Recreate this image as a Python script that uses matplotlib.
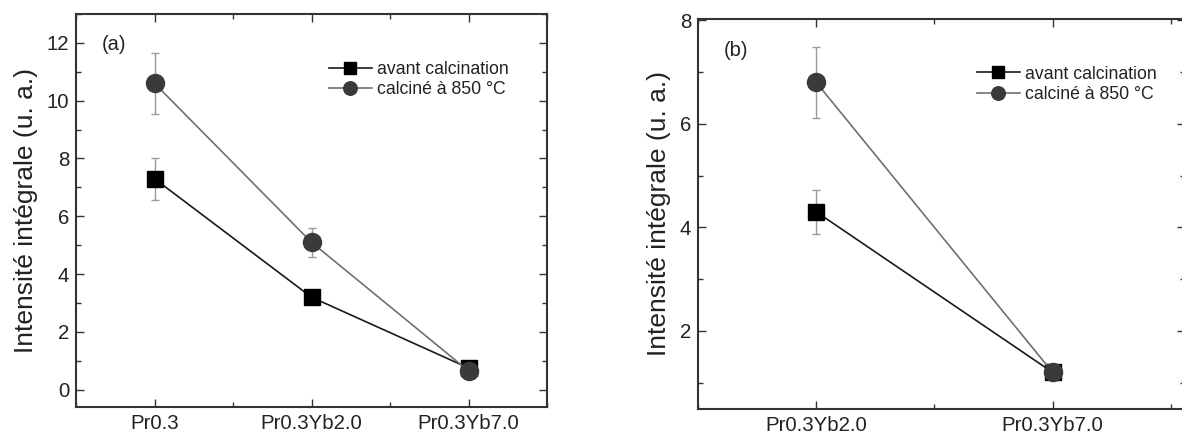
import matplotlib
matplotlib.use("Agg")
import matplotlib.pyplot as plt
from matplotlib.ticker import MultipleLocator

plt.rcParams['font.family'] = ['Liberation Sans', 'DejaVu Sans']

# Panel (a)
cats_a = ["Pr0.3", "Pr0.3Yb2.0", "Pr0.3Yb7.0"]
avant_a = [7.3, 3.2, 0.75]
avant_a_err = [0.73, 0.2, 0.08]
calc_a = [10.6, 5.1, 0.65]
calc_a_err = [1.05, 0.5, 0.07]

# Panel (b)
cats_b = ["Pr0.3Yb2.0", "Pr0.3Yb7.0"]
avant_b = [4.3, 1.2]
avant_b_err = [0.43, 0.1]
calc_b = [6.8, 1.2]
calc_b_err = [0.68, 0.1]

lab_avant = "avant calcination"
lab_calc = "calciné à 850 °C"
ylabel = "Intensité intégrale (u. a.)"

W, H = 1182, 444
fig = plt.figure(figsize=(W / 100, H / 100), dpi=100)

def px_axes(l, t, r, b):
    return fig.add_axes([l / W, (H - b) / H, (r - l) / W, (b - t) / H])

ax1 = px_axes(76, 14, 547, 407)
ax2 = px_axes(698, 19.2, 1185, 408.6)

spine_col = "#333333"
text_col = "#222222"

def draw(ax, cats, av, ave, ca, cae):
    x = list(range(len(cats)))
    ax.errorbar(x, av, yerr=ave, fmt='none', ecolor='#9a9a9a', elinewidth=1.0,
                capsize=3, capthick=1.0, zorder=2)
    ax.errorbar(x, ca, yerr=cae, fmt='none', ecolor='#9a9a9a', elinewidth=1.0,
                capsize=3, capthick=1.0, zorder=2)
    ax.plot(x, av, color='#1a1a1a', lw=1.2, marker='s', ms=11.5, mfc='#000000',
            mec='#000000', label=lab_avant, zorder=3)
    ax.plot(x, ca, color='#707070', lw=1.2, marker='o', ms=13, mfc='#3a3a3a',
            mec='#3a3a3a', label=lab_calc, zorder=4)
    ax.set_xticks(x)
    ax.set_xticklabels(cats)
    ax.xaxis.set_minor_locator(MultipleLocator(0.5))
    ax.yaxis.set_minor_locator(MultipleLocator(1))
    ax.tick_params(which='both', direction='in', top=True, right=True,
                   colors=spine_col, labelcolor=text_col, labelsize=14.7, width=1.0)
    ax.tick_params(which='major', length=5.5, pad=5)
    ax.tick_params(which='minor', length=3.5)
    for s in ax.spines.values():
        s.set_color(spine_col)
        s.set_linewidth(1.5)
    ax.set_ylabel(ylabel, fontsize=19, color=text_col, labelpad=6)

draw(ax1, cats_a, avant_a, avant_a_err, calc_a, calc_a_err)
draw(ax2, cats_b, avant_b, avant_b_err, calc_b, calc_b_err)

ax1.set_xlim(-0.5, 2.5)
ax1.set_ylim(-0.6, 13.0)
ax1.set_yticks([0, 2, 4, 6, 8, 10, 12])
ax2.set_xlim(-0.5, 1.56)
ax2.set_ylim(0.5, 8.02)
ax2.set_yticks([2, 4, 6, 8])

ax1.text((101.7 - 76) / 471, (407 - 45) / 393, "(a)", transform=ax1.transAxes,
         fontsize=14.5, color=text_col, va='center', ha='left')
ax2.text((724 - 698) / 487, (408.6 - 51) / 389.4, "(b)", transform=ax2.transAxes,
         fontsize=14.5, color=text_col, va='center', ha='left')

for ax, bx, by in [(ax1, 0.537, 0.881), (ax2, 0.573, 0.881)]:
    leg = ax.legend(loc='upper left', bbox_to_anchor=(bx, by), frameon=False,
                    fontsize=12.7, borderpad=0, borderaxespad=0, handlelength=2.43,
                    handletextpad=0.3, labelspacing=0.2, markerscale=0.75)
    for t in leg.get_texts():
        t.set_color(text_col)

fig.savefig("out.png", dpi=100)
